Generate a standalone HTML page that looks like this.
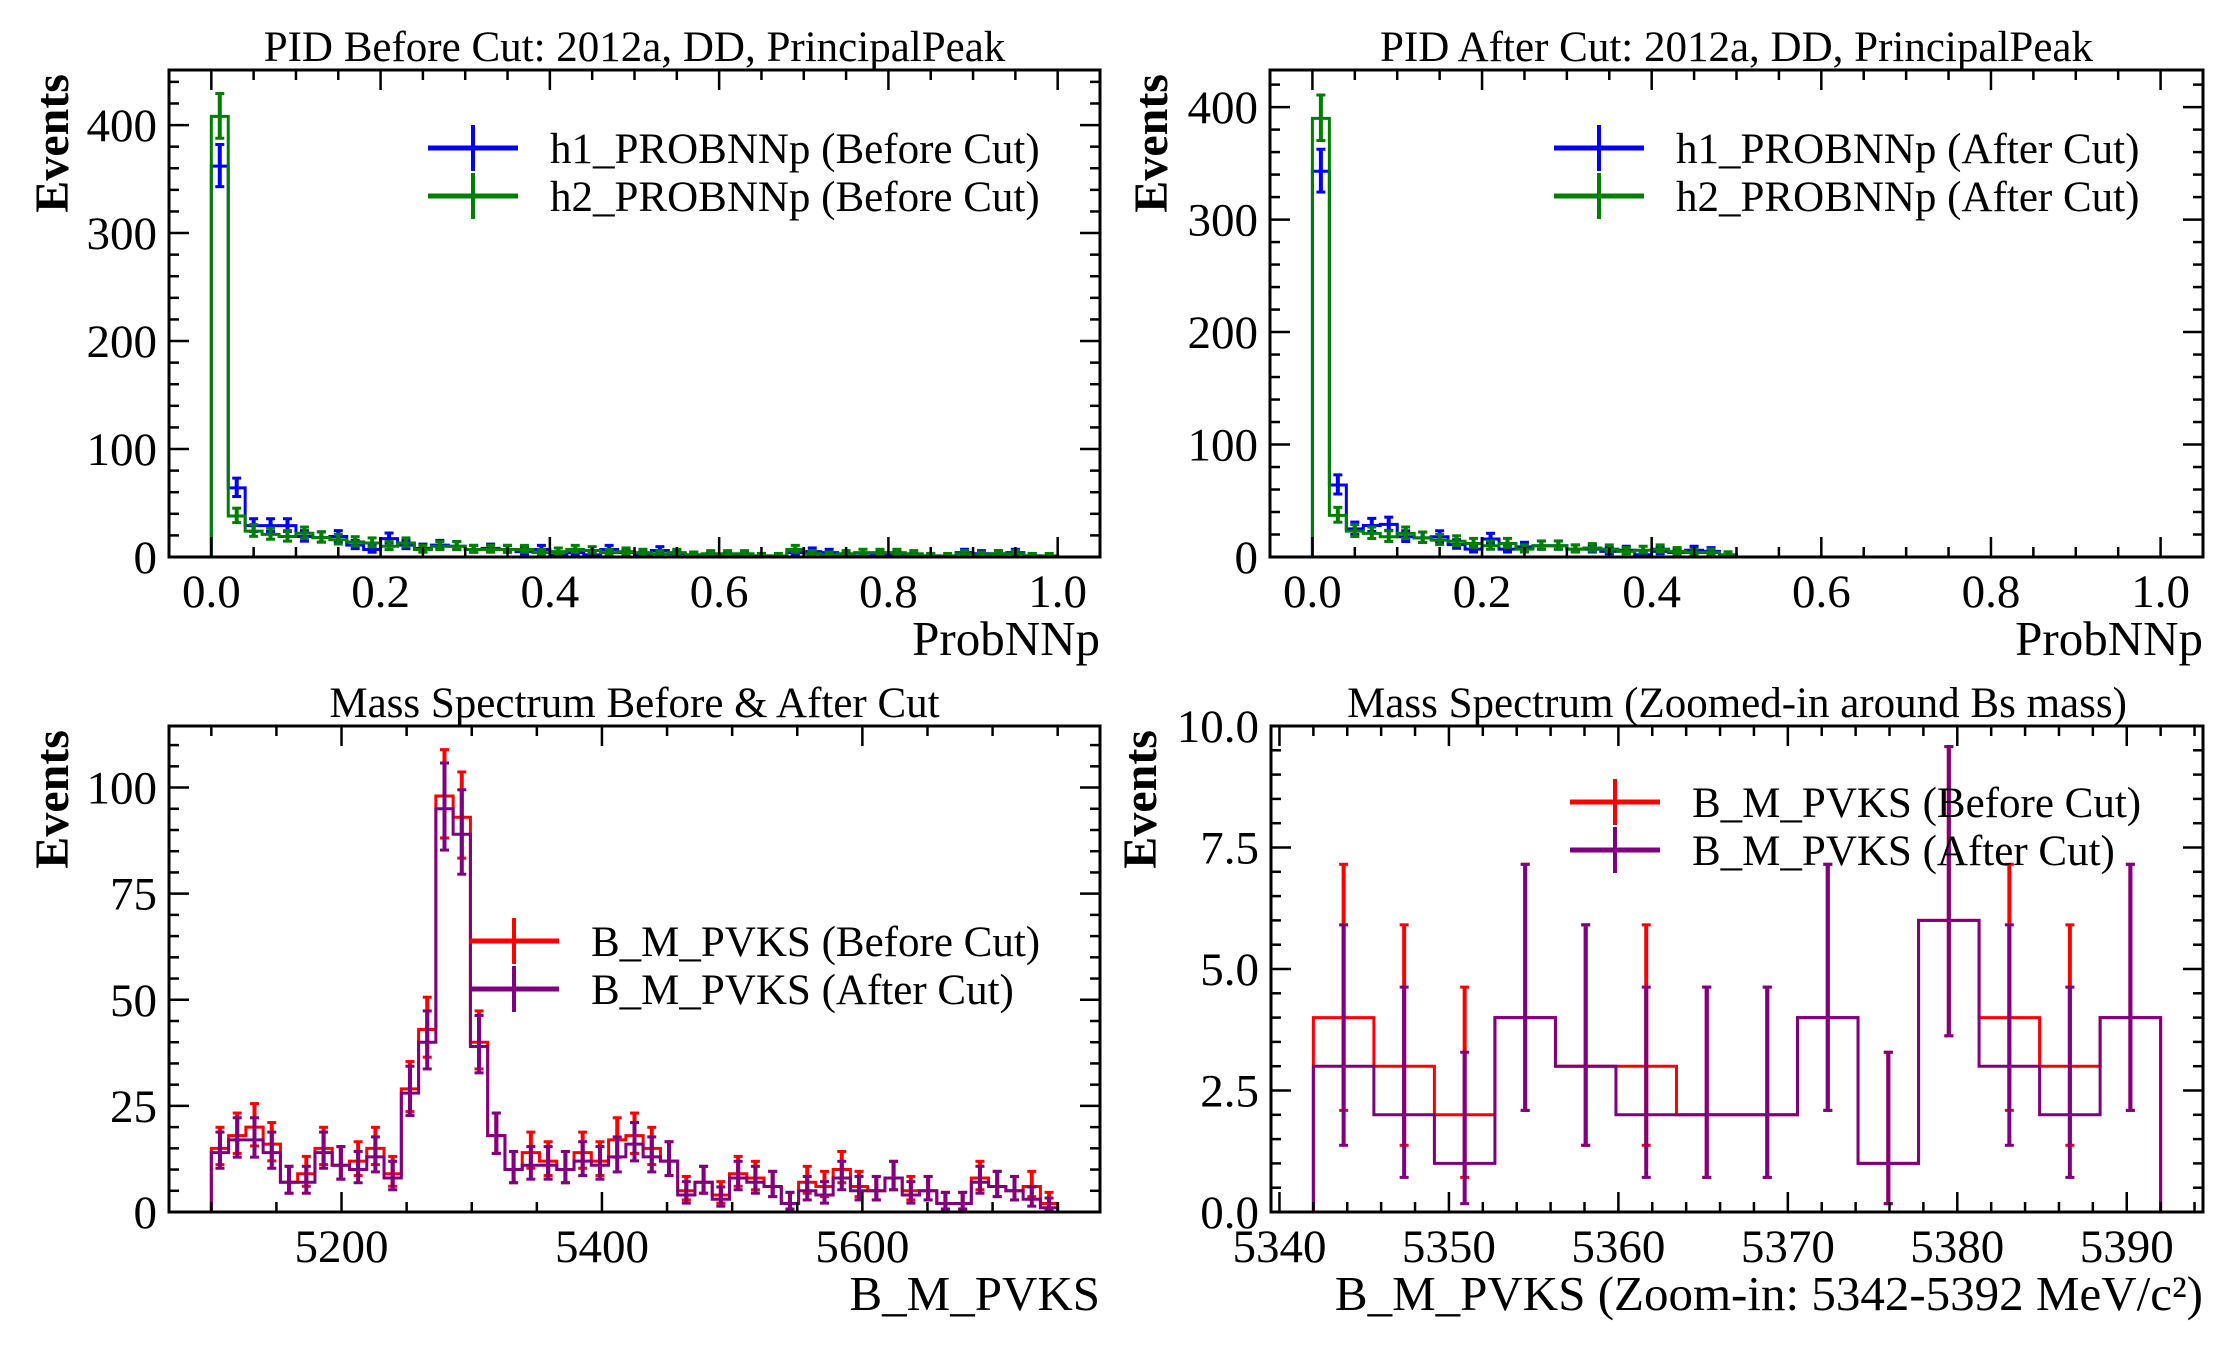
<!DOCTYPE html>
<html><head><meta charset="utf-8">
<style>
html,body{margin:0;padding:0;background:#fff;}
svg{display:block;font-family:"Liberation Serif","DejaVu Serif",serif;}
</style></head>
<body>
<svg id="fig" width="2232" height="1350" viewBox="0 0 2232 1350" xmlns="http://www.w3.org/2000/svg"></svg>
<script>
// ---- Panel 1: PID before cut (50 bins over 0..1)
const pidBins = 50;
const pidBeforeH1 = [362,64,29,29,29,19,18,19,11,7,17,11,8,11,10,7,8,7,5,7,2,4,2,7,4,2,6,3,2,1,1,1,1,0,4,5,4,1,1,2,2,1,1,0,4,3,3,4,1,0];
const pidBeforeH2 = [408,38,24,21,19,22,18,16,14,13,10,13,7,10,10,7,7,7,7,4,5,7,6,4,5,4,3,4,2,3,3,3,1,1,7,3,2,3,4,4,4,3,1,1,3,2,3,3,1,1];
// ---- Panel 2: PID after cut
const pidAfterH1 = [343,64,25,28,29,18,17,18,11,7,16,7,9,10,10,7,7,5,6,2,5,4,6,5,0,0,0,0,0,0,0,0,0,0,0,0,0,0,0,0,0,0,0,0,0,0,0,0,0,0];
const pidAfterH2 = [390,37,23,21,18,21,17,15,14,12,10,12,7,10,10,7,8,7,5,6,7,5,4,4,2,0,0,0,0,0,0,0,0,0,0,0,0,0,0,0,0,0,0,0,0,0,0,0,0,0];
const pidTicksX = ["0.0","0.2","0.4","0.6","0.8","1.0"];
const pidTicksY = [0,100,200,300,400];
// ---- Panel 3: mass spectrum 5100..5750, 49 bins
const massRange = [5100,5750];
const massBefore = [15,18,20,16,7,9,15,11,12,15,9,29,43,98,93,40,18,10,14,12,10,14,12,17,18,15,12,5,7,4,9,8,6,2,7,6,10,6,5,8,5,5,2,2,8,6,5,6,2];
const massAfter = [14,17,17,14,7,7,14,11,10,13,8,28,40,95,89,39,18,10,11,11,10,12,11,13,16,13,12,4,7,3,8,7,6,2,5,4,8,5,5,8,4,5,2,2,7,6,5,3,1];
const massTicksX = [5200,5400,5600];
const massTicksY = [0,25,50,75,100];
// ---- Panel 4: zoomed 5342..5392, 14 bins
const zoomRange = [5342,5392];
const zoomBefore = [4,3,2,4,3,3,2,2,4,1,6,4,3,4];
const zoomAfter = [3,2,1,4,3,2,2,2,4,1,6,3,2,4];
const zoomTicksX = [5340,5350,5360,5370,5380,5390];
const zoomTicksY = ["0.0","2.5","5.0","7.5","10.0"];

const NS = "http://www.w3.org/2000/svg";
const fig = document.getElementById('fig');
function el(tag, attrs, parent, txt){
  const e = document.createElementNS(NS, tag);
  for (const k in attrs) e.setAttribute(k, attrs[k]);
  if (txt !== undefined) e.textContent = txt;
  (parent||fig).appendChild(e);
  return e;
}
// Garwood 68% interval (Wilson-Hilferty approximation)
function gLow(n){ if(n<=0) return 0; const a=1-1/(9*n)-1/(3*Math.sqrt(n)); return n*a*a*a; }
function gHigh(n){ if(n<=0) return 0; const m=n+1; const a=1-1/(9*m)+1/(3*Math.sqrt(m)); return m*a*a*a; }

function panel(cfg){
  const g = el('g', {});
  
  
  const L=cfg.L,R=cfg.R,T=cfg.T,B=cfg.B;
  const sx = v => L + (v-cfg.x0)/(cfg.x1-cfg.x0)*(R-L);
  const sy = v => B - (v-cfg.y0)/(cfg.y1-cfg.y0)*(B-T);
  cfg.series.forEach(s=>{
    const n = s.vals.length;
    const w = (s.hi-s.lo)/n;
    let d = `M${sx(s.lo)},${sy(0)}`;
    s.vals.forEach((v,i)=>{ d += ` L${sx(s.lo+i*w)},${sy(v)} L${sx(s.lo+(i+1)*w)},${sy(v)}`; });
    d += ` L${sx(s.hi)},${sy(0)}`;
    const p = el('path',{d:d,fill:'none',stroke:s.color,'stroke-width':3},g);
    
    
    const eg = el('g',{stroke:s.color},g);
    
    
    s.vals.forEach((v,i)=>{
      const cx = sx(s.lo+(i+0.5)*w);
      const y1 = sy(v>0?gHigh(v):0), y2 = sy(gLow(v));
      if (v>0) el('line',{x1:cx,x2:cx,y1:y1,y2:y2,'stroke-width':4},eg);
      el('line',{x1:cx-4.5,x2:cx+4.5,y1:y1,y2:y1,'stroke-width':3},eg);
      el('line',{x1:cx-4.5,x2:cx+4.5,y1:y2,y2:y2,'stroke-width':3},eg);
    });
  });
  const tg = el('g',{stroke:'#000','stroke-width':2.5},g);
  
  
  for (let v=cfg.xm0; v<=cfg.x1+1e-9; v+=cfg.xmin){
    if (v < cfg.x0-1e-9) continue;
    const x = sx(v);
    const maj = Math.abs(((v-cfg.xM0)/cfg.xmaj) - Math.round((v-cfg.xM0)/cfg.xmaj))<1e-6;
    const len = maj?20:10;
    el('line',{x1:x,x2:x,y1:B,y2:B-len},tg);
    el('line',{x1:x,x2:x,y1:T,y2:T+len},tg);
  }
  for (let v=cfg.y0; v<=cfg.y1+1e-9; v+=cfg.ymin){
    const y = sy(v);
    const maj = Math.abs((v/cfg.ymaj)-Math.round(v/cfg.ymaj))<1e-6;
    const len = maj?20:10;
    el('line',{x1:L,x2:L+len,y1:y,y2:y},tg);
    el('line',{x1:R,x2:R-len,y1:y,y2:y},tg);
  }
  const fr = el('rect',{x:L,y:T,width:R-L,height:B-T,fill:'none',stroke:'#000','stroke-width':3},g);
  
  
  cfg.xlabels.forEach(t=>{
    const tx = el('text',{x:sx(parseFloat(t)),y:B+50,'font-size':47,'text-anchor':'middle'},g,String(t));
    
    
  });
  cfg.ylabels.forEach(t=>{
    const tx = el('text',{x:L-12,y:sy(parseFloat(t))+16,'font-size':47,'text-anchor':'end'},g,String(t));
    
    
  });
  const ti = el('text',{x:(L+R)/2,y:T-9,'font-size':43,'text-anchor':'middle'},g,cfg.title);
  
  
  const xl = el('text',{x:R,y:B+98,'font-size':49,'text-anchor':'end'},g,cfg.xlabel);
  
  
  const yl = el('text',{x:0,y:0,'font-size':48,'font-weight':'bold','text-anchor':'end',transform:`translate(${cfg.ylx},${T+4}) rotate(-90)`},g,'Events');
  
  
  const lg = el('g',{},g);
  
  
  cfg.series.forEach((s,i)=>{
    const y = cfg.legY + i*48;
    const le = el('g',{},lg);
    
    
    el('line',{x1:cfg.legX,x2:cfg.legX+90,y1:y,y2:y,stroke:s.color,'stroke-width':5},le);
    el('line',{x1:cfg.legX+45,x2:cfg.legX+45,y1:y-23,y2:y+23,stroke:s.color,'stroke-width':4},le);
    el('text',{x:cfg.legX+122,y:y+15,'font-size':43},le,s.label);
  });
}

panel({name:'pid-before-panel',L:169,R:1100,T:70,B:557,x0:-0.05,x1:1.05,y0:0,y1:451,
  xm0:0,xM0:0,xmin:0.05,xmaj:0.2,ymin:20,ymaj:100,
  xlabels:pidTicksX,ylabels:pidTicksY,title:'PID Before Cut: 2012a, DD, PrincipalPeak',xlabel:'ProbNNp',ylx:68,
  legX:428,legY:148,
  series:[{name:'h1-before',vals:pidBeforeH1,lo:0,hi:1,color:'#0000ff',label:'h1_PROBNNp (Before Cut)'},
          {name:'h2-before',vals:pidBeforeH2,lo:0,hi:1,color:'#008000',label:'h2_PROBNNp (Before Cut)'}]});
panel({name:'pid-after-panel',L:1270,R:2203,T:70,B:557,x0:-0.05,x1:1.05,y0:0,y1:433,
  xm0:0,xM0:0,xmin:0.05,xmaj:0.2,ymin:20,ymaj:100,
  xlabels:pidTicksX,ylabels:pidTicksY,title:'PID After Cut: 2012a, DD, PrincipalPeak',xlabel:'ProbNNp',ylx:1167,
  legX:1554,legY:148,
  series:[{name:'h1-after',vals:pidAfterH1,lo:0,hi:1,color:'#0000ff',label:'h1_PROBNNp (After Cut)'},
          {name:'h2-after',vals:pidAfterH2,lo:0,hi:1,color:'#008000',label:'h2_PROBNNp (After Cut)'}]});
panel({name:'mass-panel',L:169,R:1100,T:726,B:1212,x0:5067.5,x1:5782.5,y0:0,y1:114.5,
  xm0:5100,xM0:5200,xmin:50,xmaj:200,ymin:5,ymaj:25,
  xlabels:massTicksX,ylabels:massTicksY,title:'Mass Spectrum Before & After Cut',xlabel:'B_M_PVKS',ylx:68,
  legX:469,legY:941,
  series:[{name:'mass-before',vals:massBefore,lo:massRange[0],hi:massRange[1],color:'#ff0000',label:'B_M_PVKS (Before Cut)'},
          {name:'mass-after',vals:massAfter,lo:massRange[0],hi:massRange[1],color:'#800080',label:'B_M_PVKS (After Cut)'}]});
panel({name:'zoom-panel',L:1271,R:2203,T:726,B:1212,x0:5339.5,x1:5394.5,y0:0,y1:10,
  xm0:5340,xM0:5340,xmin:2,xmaj:10,ymin:0.5,ymaj:2.5,
  xlabels:zoomTicksX,ylabels:zoomTicksY,title:'Mass Spectrum (Zoomed-in around Bs mass)',xlabel:'B_M_PVKS (Zoom-in: 5342-5392 MeV/c²)',ylx:1156,
  legX:1570,legY:802,
  series:[{name:'zoom-before',vals:zoomBefore,lo:zoomRange[0],hi:zoomRange[1],color:'#ff0000',label:'B_M_PVKS (Before Cut)'},
          {name:'zoom-after',vals:zoomAfter,lo:zoomRange[0],hi:zoomRange[1],color:'#800080',label:'B_M_PVKS (After Cut)'}]});
</script>
</body></html>
